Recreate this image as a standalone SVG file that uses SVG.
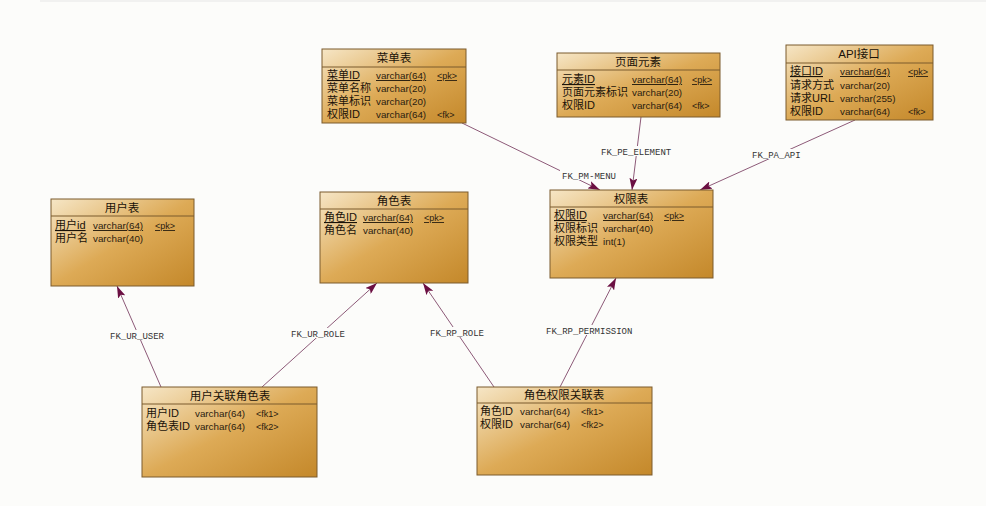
<svg xmlns="http://www.w3.org/2000/svg" width="986" height="506" viewBox="0 0 986 506">
<style>
.box{fill:url(#g);stroke:#7b5a2c;stroke-width:1}
.sep{stroke:#7b5a2c;stroke-width:1}
.t{font-family:"Liberation Sans","Noto Sans CJK SC",sans-serif;font-size:11.5px;fill:#1a1208;text-anchor:middle}
.f{font-family:"Liberation Sans","Noto Sans CJK SC",sans-serif;font-size:11px;fill:#1a1208}
.s{font-family:"Liberation Sans","Noto Sans CJK SC",sans-serif;font-size:9.8px;fill:#2a2010}
.k{font-family:"Liberation Sans",sans-serif;font-size:9px;fill:#2a2010}
.u{text-decoration:underline}
.c{stroke:#8d5a78;stroke-width:1;fill:none;marker-end:url(#a)}
.l{font-family:"Liberation Mono","DejaVu Sans Mono",monospace;font-size:9px;fill:#333}
</style>
<defs>
<linearGradient id="g" x1="0" y1="0" x2="1" y2="1">
<stop offset="0" stop-color="#f6e6c6"/>
<stop offset="0.5" stop-color="#ddaa56"/>
<stop offset="1" stop-color="#c4882a"/>
</linearGradient>
<marker id="a" viewBox="0 0 12 8" refX="12" refY="4" markerWidth="12" markerHeight="8" markerUnits="userSpaceOnUse" orient="auto">
<path d="M0,0 L12,4 L0,8 L2.5,4 Z" fill="#6b0f42"/>
</marker>
</defs>
<rect width="986" height="506" fill="#fcfcfa"/>
<line x1="40" y1="1" x2="986" y2="1" stroke="#e6e6e6"/>

<g id="connectors">
<line class="c" x1="462" y1="123" x2="600" y2="190"/>
<line class="c" x1="641" y1="117" x2="632" y2="190"/>
<line class="c" x1="855" y1="120" x2="700" y2="190"/>
<line class="c" x1="161" y1="387" x2="117" y2="286"/>
<line class="c" x1="262" y1="387" x2="377" y2="283"/>
<line class="c" x1="494" y1="387" x2="423" y2="283"/>
<line class="c" x1="560" y1="387" x2="616" y2="278"/>
<rect x="560" y="170" width="60" height="10" fill="#fcfcfa"/>
<text class="l" x="562" y="179">FK_PM-MENU</text>
<rect x="600" y="146" width="74" height="10" fill="#fcfcfa"/>
<text class="l" x="601" y="155">FK_PE_ELEMENT</text>
<rect x="751" y="149" width="52" height="10" fill="#fcfcfa"/>
<text class="l" x="752" y="158">FK_PA_API</text>
<rect x="109" y="330" width="57" height="10" fill="#fcfcfa"/>
<text class="l" x="110" y="339">FK_UR_USER</text>
<rect x="290" y="328" width="57" height="10" fill="#fcfcfa"/>
<text class="l" x="291" y="337">FK_UR_ROLE</text>
<rect x="429" y="327" width="58" height="10" fill="#fcfcfa"/>
<text class="l" x="430" y="336">FK_RP_ROLE</text>
<rect x="545" y="325" width="88" height="10" fill="#fcfcfa"/>
<text class="l" x="546" y="334">FK_RP_PERMISSION</text>
</g>

<g id="menu">
<rect class="box" x="322" y="49" width="144" height="74"/>
<line class="sep" x1="322" y1="67" x2="466" y2="67"/>
<text class="t" x="394" y="62">菜单表</text>
<text class="f u" x="327" y="79">菜单ID</text><text class="s u" x="376" y="79">varchar(64)</text><text class="k u" x="437" y="79">&lt;pk&gt;</text>
<text class="f" x="327" y="92">菜单名称</text><text class="s" x="376" y="92">varchar(20)</text>
<text class="f" x="327" y="105">菜单标识</text><text class="s" x="376" y="105">varchar(20)</text>
<text class="f" x="327" y="118">权限ID</text><text class="s" x="376" y="118">varchar(64)</text><text class="k" x="437" y="118">&lt;fk&gt;</text>
</g>

<g id="element">
<rect class="box" x="557" y="53" width="163" height="64"/>
<line class="sep" x1="557" y1="70" x2="720" y2="70"/>
<text class="t" x="638" y="66">页面元素</text>
<text class="f u" x="562" y="83">元素ID</text><text class="s u" x="632" y="83">varchar(64)</text><text class="k u" x="692" y="83">&lt;pk&gt;</text>
<text class="f" x="562" y="96">页面元素标识</text><text class="s" x="632" y="96">varchar(20)</text>
<text class="f" x="562" y="109">权限ID</text><text class="s" x="632" y="109">varchar(64)</text><text class="k" x="692" y="109">&lt;fk&gt;</text>
</g>

<g id="api">
<rect class="box" x="786" y="45" width="147" height="75"/>
<line class="sep" x1="786" y1="63" x2="933" y2="63"/>
<text class="t" x="859" y="58">API接口</text>
<text class="f u" x="790" y="75">接口ID</text><text class="s u" x="840" y="75">varchar(64)</text><text class="k u" x="908" y="75">&lt;pk&gt;</text>
<text class="f" x="790" y="89">请求方式</text><text class="s" x="840" y="89">varchar(20)</text>
<text class="f" x="790" y="102">请求URL</text><text class="s" x="840" y="102">varchar(255)</text>
<text class="f" x="790" y="115">权限ID</text><text class="s" x="840" y="115">varchar(64)</text><text class="k" x="908" y="115">&lt;fk&gt;</text>
</g>

<g id="permission">
<rect class="box" x="550" y="190" width="163" height="88"/>
<line class="sep" x1="550" y1="207" x2="713" y2="207"/>
<text class="t" x="631" y="203">权限表</text>
<text class="f u" x="554" y="219">权限ID</text><text class="s u" x="603" y="219">varchar(64)</text><text class="k u" x="664" y="219">&lt;pk&gt;</text>
<text class="f" x="554" y="232">权限标识</text><text class="s" x="603" y="232">varchar(40)</text>
<text class="f" x="554" y="245">权限类型</text><text class="s" x="603" y="245">int(1)</text>
</g>

<g id="user">
<rect class="box" x="51" y="199" width="143" height="87"/>
<line class="sep" x1="51" y1="216" x2="194" y2="216"/>
<text class="t" x="122" y="212">用户表</text>
<text class="f u" x="55" y="229">用户id</text><text class="s u" x="93" y="229">varchar(64)</text><text class="k u" x="155" y="229">&lt;pk&gt;</text>
<text class="f" x="55" y="242">用户名</text><text class="s" x="93" y="242">varchar(40)</text>
</g>

<g id="role">
<rect class="box" x="320" y="192" width="148" height="91"/>
<line class="sep" x1="320" y1="209" x2="468" y2="209"/>
<text class="t" x="394" y="205">角色表</text>
<text class="f u" x="324" y="221">角色ID</text><text class="s u" x="363" y="221">varchar(64)</text><text class="k u" x="424" y="221">&lt;pk&gt;</text>
<text class="f" x="324" y="234">角色名</text><text class="s" x="363" y="234">varchar(40)</text>
</g>

<g id="user_role">
<rect class="box" x="142" y="387" width="175" height="90"/>
<line class="sep" x1="142" y1="404" x2="317" y2="404"/>
<text class="t" x="230" y="400">用户关联角色表</text>
<text class="f" x="146" y="417">用户ID</text><text class="s" x="195" y="417">varchar(64)</text><text class="k" x="256" y="417">&lt;fk1&gt;</text>
<text class="f" x="146" y="430">角色表ID</text><text class="s" x="195" y="430">varchar(64)</text><text class="k" x="256" y="430">&lt;fk2&gt;</text>
</g>

<g id="role_permission">
<rect class="box" x="477" y="387" width="175" height="88"/>
<line class="sep" x1="477" y1="403" x2="652" y2="403"/>
<text class="t" x="564" y="399">角色权限关联表</text>
<text class="f" x="480" y="415">角色ID</text><text class="s" x="520" y="415">varchar(64)</text><text class="k" x="581" y="415">&lt;fk1&gt;</text>
<text class="f" x="480" y="428">权限ID</text><text class="s" x="520" y="428">varchar(64)</text><text class="k" x="581" y="428">&lt;fk2&gt;</text>
</g>
</svg>
